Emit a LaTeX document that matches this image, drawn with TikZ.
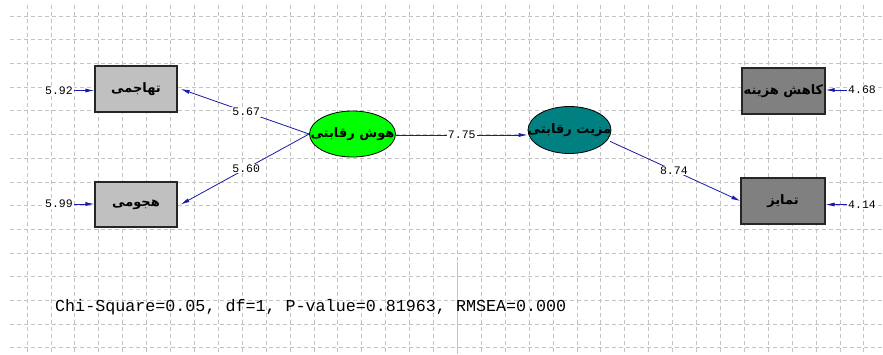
\documentclass[tikz,border=0pt]{standalone}
\usepackage{fontspec}
\setmonofont{Liberation Mono}
\newfontfamily\arabicfont[Script=Arabic]{DejaVu Sans}
\usetikzlibrary{arrows.meta,shapes.geometric}
\TeXXeTstate=1
\definecolor{pathblue}{RGB}{25,25,170}
\definecolor{gridgray}{RGB}{195,195,195}
\definecolor{boxlight}{RGB}{192,192,192}
\definecolor{boxdark}{RGB}{128,128,128}
\definecolor{latgreen}{RGB}{0,255,0}
\definecolor{latteal}{RGB}{0,128,128}
\tikzset{
  gridline/.style={draw=gridgray, line width=0.8pt, dash pattern=on 4pt off 3pt},
  obsbox/.style={rectangle, draw=black!85, line width=1.3pt, minimum width=82pt, minimum height=46pt, inner sep=0pt},
  latent/.style={ellipse, draw=black, line width=0.8pt, inner sep=0pt},
  arlabel/.style={font=\arabicfont\bfseries\fontsize{13}{13}\selectfont},
  conn/.style={draw=pathblue, line width=0.8pt, -{Latex[length=9pt,width=4pt]}},
  coef/.style={fill=white, inner sep=1pt, font=\ttfamily\fontsize{11.5}{11.5}\selectfont},
  errlab/.style={fill=white, inner sep=1pt, font=\ttfamily\fontsize{11.5}{11.5}\selectfont}
}
\begin{document}
\begin{tikzpicture}[x=1pt,y=-1pt]
\useasboundingbox[fill=white] (0,0) rectangle (883,354);
% grid
\foreach \k in {0,...,14} {
  \draw[gridline] (10,{16+23.7*\k}) -- (883,{16+23.7*\k});
}
\foreach \k in {0,...,35} {
  \draw[gridline] ({27+23.91*\k},5) -- ({27+23.91*\k},354);
}
\draw[gridgray, line width=0.8pt] (457.4,262) -- (457.4,354);

% observed boxes
\node[obsbox, fill=boxlight, arlabel] (tahajomi) at (136,89) {\beginR تهاجمی\endR};
\node[obsbox, fill=boxlight, arlabel, minimum height=45pt] (hojoomi) at (136,204.5) {\beginR هجومی\endR};
\node[obsbox, fill=boxdark, arlabel, minimum width=83pt] (kahesh) at (783.5,91) {\beginR کاهش هزینه\endR};
\node[obsbox, fill=boxdark, arlabel, minimum width=84pt] (tamayoz) at (783,201) {\beginR تمایز\endR};

% latent ellipses
\node[latent, fill=latgreen, minimum width=86pt, minimum height=46pt,
      label={[arlabel]center:\beginR هوش رقابتی\endR}] (hoosh) at (352.5,134) {};
\node[latent, fill=latteal, minimum width=83pt, minimum height=47pt,
      label={[arlabel]center:\beginR مزیت رقابتی\endR}] (mazit) at (569.5,130) {};

% error terms
\node[errlab] (e1) at (59,90.5) {5.92};
\node[errlab] (e2) at (59,204) {5.99};
\node[errlab] (e3) at (862,90) {4.68};
\node[errlab] (e4) at (862,204.5) {4.14};
\draw[conn] (e1) -- (e1 -| tahajomi.west);
\draw[conn] (e2) -- (e2 -| hojoomi.west);
\draw[conn] (e3) -- (e3 -| kahesh.east);
\draw[conn] (e4) -- (e4 -| tamayoz.east);

% structural / measurement paths
\draw[conn] (hoosh.west) -- node[coef, pos=0.49] {5.67} ([xshift=3pt]tahajomi.east);
\draw[conn] (hoosh.west) -- node[coef, pos=0.49] {5.60} ([xshift=3pt]hojoomi.east);
\draw[conn] (hoosh.east |- 0,135) -- node[coef, pos=0.5] {7.75} (mazit.west |- 0,135);
\draw[conn, shorten <=3pt] (mazit.-15) -- node[coef, pos=0.5] {8.74} (tamayoz.west);

% fit statistics
\node[anchor=west, inner sep=0pt, font=\ttfamily\fontsize{16.7}{16.7}\selectfont] (fit) at (55,307) {Chi-Square=0.05, df=1, P-value=0.81963, RMSEA=0.000};
\end{tikzpicture}
\end{document}
